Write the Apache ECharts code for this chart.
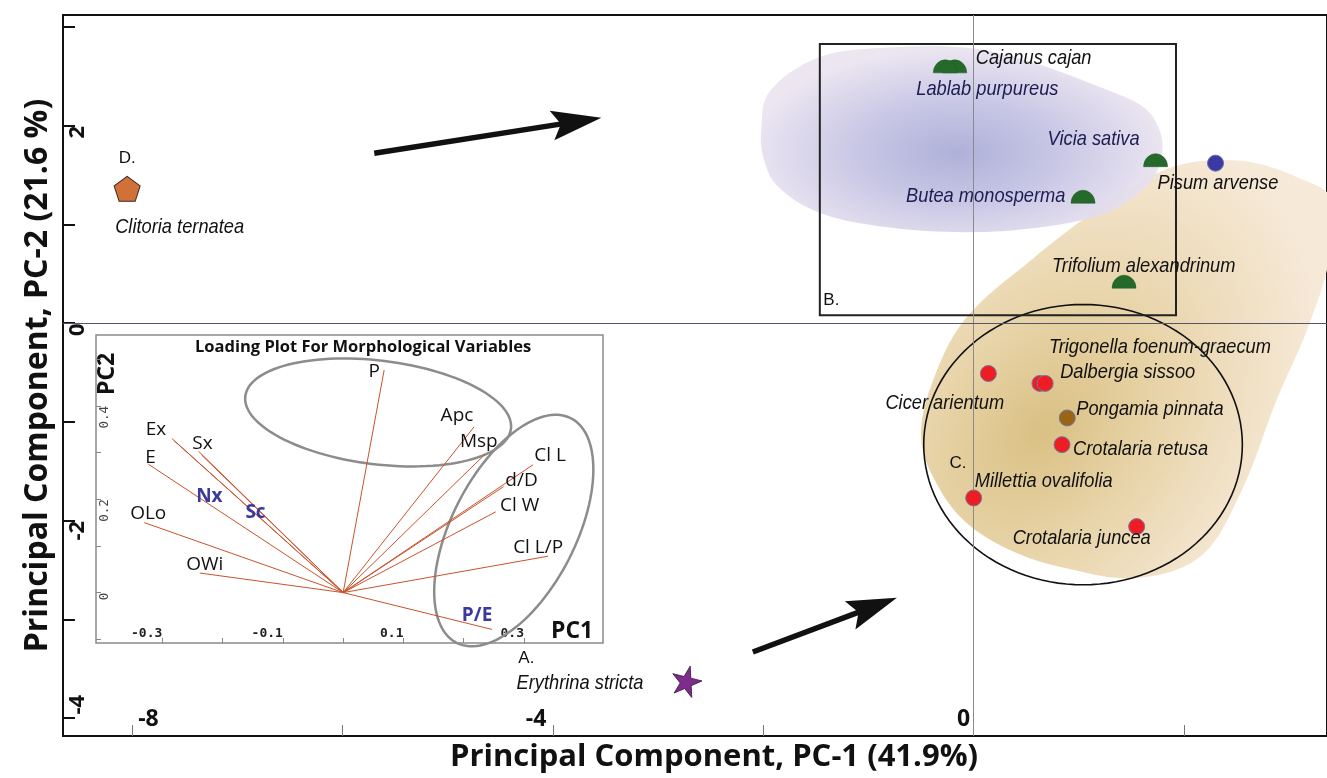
<!DOCTYPE html>
<html><head><meta charset="utf-8">
<script src="https://cdn.jsdelivr.net/npm/echarts@6/dist/echarts.min.js"></script>
<style>html,body{margin:0;padding:0;background:#fff}#c{width:1327px;height:778px}</style>
</head><body><div id="c"></div>
<script>
// ---------------- DATA ----------------
const speciesNames = ['Clitoria ternatea','Erythrina stricta','Cajanus cajan','Lablab purpureus','Vicia sativa','Pisum arvense','Butea monosperma','Trifolium alexandrinum','Cicer arientum','Trigonella foenum-graecum','Dalbergia sissoo','Pongamia pinnata','Crotalaria retusa','Millettia ovalifolia','Crotalaria juncea'];
const pc1Scores = [-8.05,-2.73,-0.18,-0.27,1.73,2.30,1.04,1.43,0.14,0.63,0.68,0.89,0.84,0.00,1.55];
const pc2Scores = [1.36,-3.62,2.60,2.60,1.65,1.62,1.28,0.42,-0.51,-0.61,-0.61,-0.96,-1.23,-1.77,-2.06];
const speciesKind = ['pentagon','star','semi','semi','semi','blue','semi','semi','red','red','red','brown','red','red','red'];

const groupLetters = ['A.','B.','C.','D.'];
const groupLetterPC1 = [-4.33,-1.43,-0.23,-8.13];
const groupLetterPC2 = [-3.39,0.23,-1.42,1.67];

const xTickValues = [-8,-6,-4,-2,0,2];
const xTickLabels = [-8,-4,0];
const yTickValues = [-4,-3,-2,-1,0,1,2,3];
const yTickLabels = [-4,-2,0,2];

// group outlines (PC units)
const boxB = [-1.463, 0.081, 1.924, 2.827];            // x0,y0,x1,y1
const circleC = [1.04, -1.23, 1.515, 1.333, 0];         // cx,cy,semi-a,semi-b (x units), angle
const blueBlobPC1 = [-2.02,-1.93,-1.45,-0.82,-0.08,0.56,1.20,1.61,1.77,1.79,1.71,1.52,1.20,0.56,-0.08,-0.82,-1.45,-1.86,-2.00];
const blueBlobPC2 = [1.96,2.36,2.70,2.79,2.79,2.64,2.39,2.19,1.95,1.71,1.47,1.27,1.09,0.96,0.92,0.97,1.11,1.38,1.68];
const blueBlobCenter = [-0.15, 1.73];
const tanBlobPC1 = [2.38,2.69,3.07,3.41,3.38,3.17,2.88,2.55,2.17,1.56,0.83,0.35,-0.09,-0.37,-0.50,-0.41,-0.09,0.56,1.20,1.71,2.03];
const tanBlobPC2 = [1.65,1.62,1.48,1.25,0.64,-0.07,-0.78,-1.69,-2.35,-2.58,-2.47,-2.30,-2.00,-1.59,-1.16,-0.65,0.03,0.65,1.17,1.50,1.62];
const tanBlobCenter = [0.65, -1.08];

const arrowTailPC1 = [-5.70, -2.10];
const arrowTailPC2 = [1.72, -3.33];
const arrowTipPC1 = [-3.54, -0.73];
const arrowTipPC2 = [2.08, -2.78];

// loading plot (inset)
const loadingVars = ['P','Apc','Msp','Cl L','d/D','Cl W','Cl L/P','P/E','OWi','OLo','E','Ex','Sx','Nx','Sc'];
const loadingPC1 = [0.068,0.217,0.235,0.315,0.266,0.253,0.340,0.247,-0.238,-0.330,-0.323,-0.284,-0.240,-0.280,-0.235];
const loadingPC2 = [0.477,0.355,0.296,0.274,0.227,0.173,0.078,-0.079,0.042,0.150,0.275,0.330,0.303,0.325,0.295];
const highlightedVars = ['P/E','Nx','Sc'];
const insetEllipses = [[0.058,0.386,0.222,0.086,7],[0.283,0.133,0.209,0.103,-63]]; // cx,cy,a,b (x units),angle deg
const insetXTicks = [-0.3,-0.2,-0.1,0,0.1,0.2,0.3];
const insetXLabels = [-0.3,-0.1,0.1,0.3];
const insetYTicks = [-0.1,0,0.1,0.2,0.3,0.4,0.5];
const insetYLabels = [0,0.2,0.4];

// ---------------- STYLES / LAYOUT ----------------
const italicFont = "'Liberation Sans',Arial,sans-serif";
const markerStyle = {
  pentagon:{symbol:'path://M50,0 L97.6,34.5 L79.4,90.5 L20.6,90.5 L2.4,34.5 Z', size:[26,25], color:'#d2703a', border:'#3a2a20', bw:1, rot:0},
  star:{symbol:'path://M50,0 L61,35 L98,35 L68,57 L79,91 L50,70 L21,91 L32,57 L2,35 L39,35 Z', size:[30,30], color:'#7e2b8c', border:'#3a1a40', bw:0.8, rot:-14},
  semi:{symbol:'path://M0,50 A50,50 0 0 1 100,50 Z', size:[24,13], color:'#256a2b', border:'#1e5a22', bw:0.5, rot:0},
  red:{symbol:'circle', size:16, color:'#ee1d23', border:'#6f7aa6', bw:1, rot:0},
  brown:{symbol:'circle', size:16, color:'#9a6412', border:'#6f7aa6', bw:1, rot:0},
  blue:{symbol:'circle', size:16, color:'#3a3aa2', border:'#6a6ab8', bw:1, rot:0}
};
const speciesLabelOffset = {
  'Clitoria ternatea':[-12,38],'Erythrina stricta':[-170,2],'Cajanus cajan':[21,-8],'Lablab purpureus':[-29,23],
  'Vicia sativa':[-108,-21],'Pisum arvense':[-58,20],'Butea monosperma':[-177,-1],'Trifolium alexandrinum':[-72,-16],
  'Cicer arientum':[-103,30],'Trigonella foenum-graecum':[9,-36],'Dalbergia sissoo':[15,-11],'Pongamia pinnata':[9,-9],
  'Crotalaria retusa':[11,5],'Millettia ovalifolia':[1,-17],'Crotalaria juncea':[-124,12]
};
const navyLabels = ['Lablab purpureus','Vicia sativa','Butea monosperma'];
const loadingLabelOffset = {
  'P':[-10,2],'Apc':[-17,-11],'Msp':[-6,-13],'Cl L':[17,-9],'d/D':[18,-6],'Cl W':[24,-6],'Cl L/P':[-10,-9],
  'P/E':[-15,-14],'OWi':[5,-8],'OLo':[4,-9],'E':[2,-7],'Ex':[-16,-9],'Sx':[4,-8],'Nx':[35,56],'Sc':[54,58]
};
const tickFont = {fontFamily:'Open Sans', fontWeight:'bold', fontSize:23, color:'#111'};
const yTickFont = {fontFamily:'Open Sans', fontWeight:'bold', fontSize:22, color:'#111'};

// ---------------- HELPERS ----------------
function ellipsePts(c, a, b, angDeg, n) {
  const ang = angDeg * Math.PI / 180, ca = Math.cos(ang), sa = Math.sin(ang), pts = [];
  for (let i = 0; i < n; i++) {
    const t = 2 * Math.PI * i / n, x = a * Math.cos(t), y = b * Math.sin(t);
    pts.push([c[0] + x * ca - y * sa, c[1] + x * sa + y * ca]);
  }
  return pts;
}
function blobItem(api, xs, ys, rotDeg, sx, r, stops, opacity) {
  const c = api.coord([api.value(0), api.value(1)]);
  const rot = rotDeg * Math.PI / 180, ct = Math.cos(rot), st = Math.sin(rot);
  const pts = xs.map((x, i) => {
    const p = api.coord([x, ys[i]]);
    const dx = p[0] - c[0], dy = p[1] - c[1];
    return [(ct * dx - st * dy) / sx, (st * dx + ct * dy)];
  });
  return {type:'group', x:c[0], y:c[1], rotation:rot, scaleX:sx, children:[{
    type:'polygon', shape:{points:pts, smooth:0.35},
    style:{fill:{type:'radial', x:0, y:0, r:r, global:true, colorStops:stops}, opacity:opacity}
  }]};
}

// ---------------- SERIES ----------------
const speciesData = speciesNames.map((n, i) => {
  const m = markerStyle[speciesKind[i]];
  return {
    name:n, value:[pc1Scores[i], pc2Scores[i]], symbol:m.symbol, symbolSize:m.size, symbolRotate:m.rot,
    itemStyle:{color:m.color, borderColor:m.border, borderWidth:m.bw, opacity:1}
  };
});

const option = {
  animation:false,
  backgroundColor:'#fff',
  title:{text:'Loading Plot For Morphological Variables', left:190, top:334,
    textStyle:{fontFamily:'Open Sans', fontWeight:'bold', fontSize:16.5, color:'#111'}},
  grid:[
    {left:63, top:15, right:-3, bottom:42, show:true, borderColor:'#111', borderWidth:2},
    {left:96, top:335, width:507, height:308, show:true, borderColor:'#8a8a8a', borderWidth:1.5, backgroundColor:'#fff'}
  ],
  xAxis:[
    {gridIndex:0, type:'value', min:-8.66, max:3.36, splitLine:{show:false}, axisLine:{show:false, onZero:false},
     axisTick:{show:true, inside:true, length:11, customValues:xTickValues, lineStyle:{color:'#777', width:1}},
     axisLabel:{inside:true, customValues:xTickLabels, margin:5, ...tickFont,
       formatter:v => v === -8 ? '{l|-8}' : (v === 0 ? '{z|0}' : '{r|' + v + '}'),
       rich:{l:{padding:[0,0,0,32], ...tickFont}, r:{padding:[0,34,0,0], ...tickFont}, z:{padding:[0,20,0,0], ...tickFont}}},
     name:'Principal Component, PC-1 (41.9%)', nameLocation:'middle', nameGap:4,
     nameTextStyle:{fontFamily:'Open Sans', fontWeight:'bold', fontSize:31, color:'#111', padding:[0,0,0,38], verticalAlign:'top'}},
    {gridIndex:1, type:'value', min:-0.41, max:0.431, splitLine:{show:false}, axisLine:{show:false, onZero:false},
     axisTick:{show:true, inside:true, length:5, customValues:insetXTicks, lineStyle:{color:'#888'}},
     axisLabel:{inside:true, customValues:insetXLabels, align:'right', margin:3, fontFamily:'DejaVu Sans Mono', fontWeight:'bold', fontSize:13, color:'#222',
       formatter:v => v.toFixed(1)},
     name:'PC1', nameLocation:'end', nameGap:-52,
     nameTextStyle:{fontFamily:'Open Sans', fontWeight:'bold', fontSize:23, color:'#111', align:'left', verticalAlign:'bottom'}}
  ],
  yAxis:[
    {gridIndex:0, type:'value', min:-4.18, max:3.12, splitLine:{show:false}, axisLine:{show:false, onZero:false},
     axisTick:{show:true, inside:true, length:12, customValues:yTickValues, lineStyle:{color:'#111', width:2}},
     axisLabel:{inside:true, customValues:yTickLabels, rotate:90, align:'center', verticalAlign:'top', margin:4, ...yTickFont,
       formatter:v => v === -4 ? '{u|-4}' : (v === -2 ? '{d2|-2}' : '{d1|' + v + '}'),
       rich:{u:{padding:[0,0,0,27], ...yTickFont}, d2:{padding:[0,20,0,0], ...yTickFont}, d1:{padding:[0,13,0,0], ...yTickFont}}},
     name:'Principal Component, PC-2 (21.6 %)', nameLocation:'middle', nameGap:9,
     nameTextStyle:{fontFamily:'Open Sans', fontWeight:'bold', fontSize:32, color:'#111'}},
    {gridIndex:1, type:'value', min:-0.108, max:0.552, splitLine:{show:false}, axisLine:{show:false, onZero:false},
     axisTick:{show:true, inside:true, length:5, customValues:insetYTicks, lineStyle:{color:'#888'}},
     axisLabel:{inside:true, customValues:insetYLabels, rotate:90, align:'right', verticalAlign:'top', margin:2,
       fontFamily:'DejaVu Sans Mono', fontSize:12.5, color:'#444', formatter:v => String(Math.round(v*10)/10)},
     name:'PC2', nameLocation:'end', nameGap:-60, nameRotate:90,
     nameTextStyle:{fontFamily:'Open Sans', fontWeight:'bold', fontSize:23, color:'#111', align:'left', verticalAlign:'top'}}
  ],
  series:[
    // tan group blob
    {type:'custom', xAxisIndex:0, yAxisIndex:0, z:1, silent:true, data:[tanBlobCenter],
     renderItem:(p, api) => blobItem(api, tanBlobPC1, tanBlobPC2, 50, 1.45, 230,
       [{offset:0, color:'#d9c083'},{offset:0.45, color:'#e9d5ab'},{offset:1, color:'#f6e9d8'}], 1)},
    // blue group blob
    {type:'custom', xAxisIndex:0, yAxisIndex:0, z:1, silent:true, data:[blueBlobCenter],
     renderItem:(p, api) => blobItem(api, blueBlobPC1, blueBlobPC2, 0, 2.0, 105,
       [{offset:0, color:'#a7aad6'},{offset:0.5, color:'#c5c3e3'},{offset:1, color:'#ebe4f0'}], 0.92)},
    // zero lines, box B, circle C
    {type:'custom', xAxisIndex:0, yAxisIndex:0, z:3, silent:true, data:[circleC],
     renderItem:(p, api) => {
       const c = api.coord([api.value(0), api.value(1)]);
       const u = api.size([1, 0])[0];
       const b0 = api.coord([boxB[0], boxB[1]]), b1 = api.coord([boxB[2], boxB[3]]);
       return {type:'group', children:[
         {type:'polygon', shape:{points:ellipsePts(c, api.value(2)*u, api.value(3)*u, api.value(4), 120)},
          style:{fill:'none', stroke:'#111', lineWidth:1.6}},
         {type:'rect', shape:{x:b0[0], y:b1[1], width:b1[0]-b0[0], height:b0[1]-b1[1]},
          style:{fill:'none', stroke:'#222', lineWidth:2}}
       ]};
     },
     markLine:{silent:true, symbol:'none', label:{show:false}, animation:false,
       data:[{xAxis:0, lineStyle:{color:'#8a8a8a', width:1, type:'solid'}},
             {yAxis:0, lineStyle:{color:'#55556a', width:1.2, type:'solid'}}]}},
    // arrows
    {type:'custom', xAxisIndex:0, yAxisIndex:0, z:4, silent:true,
     data:arrowTailPC1.map((x, i) => [x, arrowTailPC2[i], arrowTipPC1[i], arrowTipPC2[i]]),
     renderItem:(p, api) => {
       const p0 = api.coord([api.value(0), api.value(1)]), p1 = api.coord([api.value(2), api.value(3)]);
       const dx = p1[0]-p0[0], dy = p1[1]-p0[1], L = Math.hypot(dx, dy), ux = dx/L, uy = dy/L, nx = -uy, ny = ux;
       const hl = 50, hw = 15, b = [p1[0]-ux*hl, p1[1]-uy*hl];
       return {type:'group', children:[
         {type:'line', shape:{x1:p0[0], y1:p0[1], x2:b[0]+ux*10, y2:b[1]+uy*10}, style:{stroke:'#111', lineWidth:5.5}},
         {type:'polygon', shape:{points:[p1, [b[0]+nx*hw, b[1]+ny*hw], [b[0]+ux*9, b[1]+uy*9], [b[0]-nx*hw, b[1]-ny*hw]]}, style:{fill:'#111'}}
       ]};
     }},
    // species markers
    {type:'scatter', xAxisIndex:0, yAxisIndex:0, z:6, data:speciesData},
    // species labels (condensed italic)
    {type:'custom', xAxisIndex:0, yAxisIndex:0, z:7, silent:true,
     data:pc1Scores.map((x, i) => [x, pc2Scores[i]]),
     renderItem:(p, api) => {
       const n = speciesNames[p.dataIndex], off = speciesLabelOffset[n];
       const c = api.coord([api.value(0), api.value(1)]);
       return {type:'text', x:c[0]+off[0], y:c[1]+off[1], scaleX:0.87,
         style:{text:n, fontFamily:italicFont, fontStyle:'italic', fontSize:21, fill: navyLabels.includes(n) ? '#1c1c52' : '#111',
           align:'left', verticalAlign:'middle'}};
     }},
    // group letters
    {type:'scatter', xAxisIndex:0, yAxisIndex:0, z:6, symbolSize:1, itemStyle:{color:'transparent', opacity:1},
     data:groupLetters.map((n, i) => ({name:n, value:[groupLetterPC1[i], groupLetterPC2[i]]})),
     label:{show:true, formatter:'{b}', position:'inside', align:'left', verticalAlign:'middle',
       fontFamily:"'Liberation Sans',Arial,sans-serif", fontSize:17, color:'#111'}},
    // inset ellipses
    {type:'custom', xAxisIndex:1, yAxisIndex:1, z:7, silent:true, data:insetEllipses,
     renderItem:(p, api) => {
       const c = api.coord([api.value(0), api.value(1)]);
       const u = api.size([1, 0])[0];
       return {type:'polygon', shape:{points:ellipsePts(c, api.value(2)*u, api.value(3)*u, api.value(4), 120)},
         style:{fill:'none', stroke:'#8c8c8c', lineWidth:2.5}};
     }},
    // loading vectors
    {type:'lines', coordinateSystem:'cartesian2d', xAxisIndex:1, yAxisIndex:1, z:8, silent:true,
     lineStyle:{color:'#c8532c', width:1, opacity:1},
     data:loadingPC1.map((x, i) => ({coords:[[0, 0], [x, loadingPC2[i]]]}))},
    // loading labels
    {type:'scatter', xAxisIndex:1, yAxisIndex:1, z:9, symbolSize:1, itemStyle:{color:'transparent', opacity:1},
     data:loadingVars.map((n, i) => {
       const hi = highlightedVars.includes(n);
       return {name:n, value:[loadingPC1[i], loadingPC2[i]],
         label:{show:true, formatter:n, position:'inside', align:'center', verticalAlign:'middle', offset:loadingLabelOffset[n],
           fontFamily:'Open Sans', fontSize:19, fontWeight: hi ? 'bold' : 'normal', color: hi ? '#3a3a9c' : '#111'}};
     })}
  ]
};
const chart = echarts.init(document.getElementById('c'), null, {renderer:'canvas'});
chart.setOption(option);
</script></body></html>
